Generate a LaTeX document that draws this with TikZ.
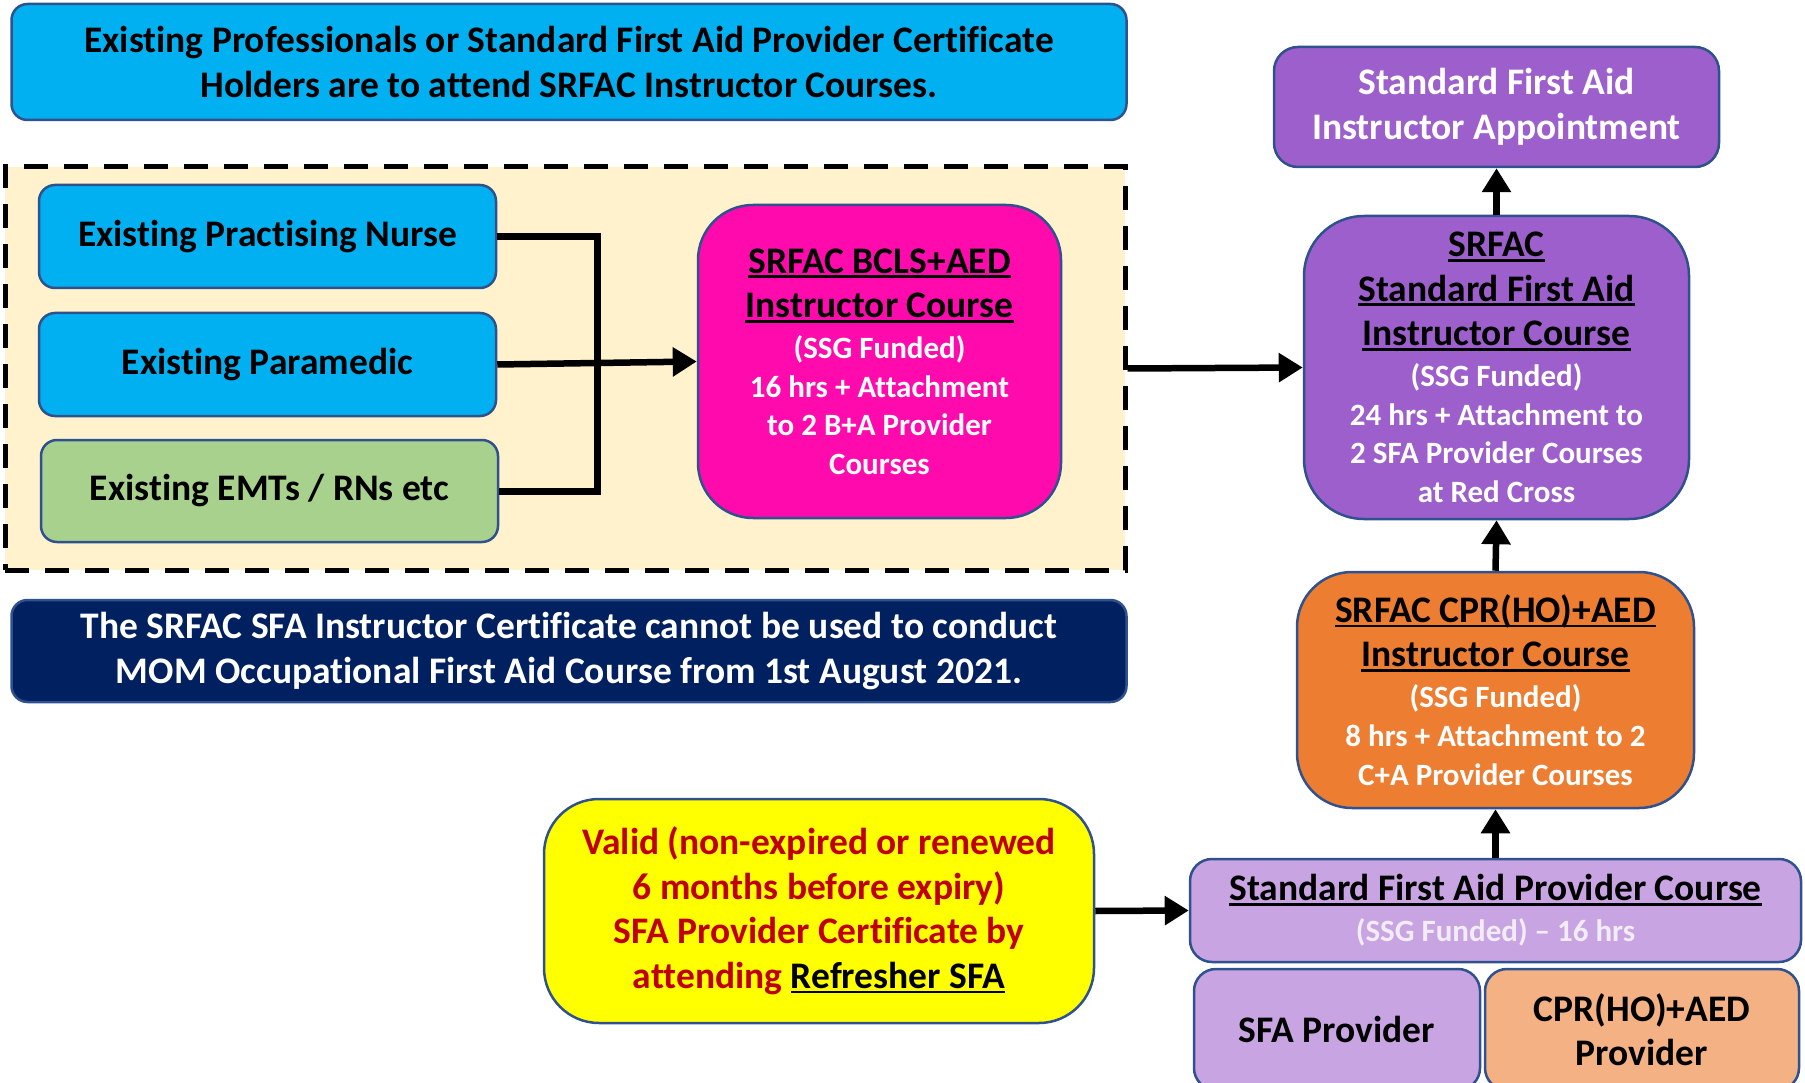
\documentclass[tikz,border=0pt]{standalone}
\usepackage{fontspec}
\setmainfont{Carlito}[Ligatures={NoCommon}]
\usetikzlibrary{arrows.meta}
\newsavebox\ulbox
\newcommand\ulx[1]{\leavevmode\sbox\ulbox{#1}\rlap{\rule[-5pt]{\wd\ulbox}{2.8pt}}\usebox\ulbox}
\definecolor{bordc}{HTML}{2F528F}
\definecolor{cyanc}{HTML}{00B0F0}
\definecolor{greenc}{HTML}{A9D18E}
\definecolor{creamc}{HTML}{FFF2CC}
\definecolor{pinkc}{HTML}{FF0AAD}
\definecolor{navyc}{HTML}{002060}
\definecolor{purplec}{HTML}{9D5FCC}
\definecolor{orangec}{HTML}{ED7D31}
\definecolor{lilacc}{HTML}{C8A4E2}
\definecolor{peachc}{HTML}{F4B183}
\definecolor{yellowc}{HTML}{FFFF00}
\definecolor{redc}{HTML}{C00000}
\definecolor{palec}{HTML}{F2ECF7}
\newcommand\detailsize{\fontsize{31}{38.6}\selectfont}
\newcommand\detailgap{\vskip 2.4pt}
\begin{document}
\begin{tikzpicture}[x=1pt,y=-1pt,
  box/.style={draw=bordc, line width=2.5pt, inner sep=0pt, align=flush center,
    font=\bfseries\fontsize{37.5}{44.5}\selectfont, anchor=center},
  conn/.style={line width=7pt, draw=black},
  arr/.style={line width=6.5pt, draw=black, -{Triangle[length=24pt,width=28pt]}}]
\useasboundingbox (0,0) rectangle (1805,1083);
\clip (0,0) rectangle (1805,1083);

% banner
\node[box, fill=cyanc, rounded corners=16pt, minimum width=1115pt, minimum height=116pt] (banner) at (569,62)
  {Existing Professionals or Standard First Aid Provider Certificate\\Holders are to attend SRFAC Instructor Courses.};

% dashed group
\node[draw=black, line width=5pt, dash pattern=on 24pt off 16pt, fill=creamc, inner sep=0pt,
  minimum width=1120pt, minimum height=403pt, anchor=center] (group) at (565,368.5) {};

\node[box, fill=cyanc, rounded corners=16pt, minimum width=457pt, minimum height=103pt] (nurse) at (267.5,236.5) {\raisebox{-4pt}{Existing Practising Nurse}};
\node[box, fill=cyanc, rounded corners=16pt, minimum width=457pt, minimum height=103pt] (para) at (267.5,364.5) {\raisebox{-3pt}{Existing Paramedic}};
\node[box, fill=greenc, rounded corners=16pt, minimum width=457pt, minimum height=102pt] (emt) at (269.5,491) {\raisebox{-3pt}{Existing EMTs / RNs etc}};

\node[box, fill=pinkc, rounded corners=55pt, minimum width=363pt, minimum height=313pt, text width=350pt] (bcls) at (879.5,361.5)
  {\ulx{SRFAC BCLS+AED}\\\ulx{Instructor Course}\par\detailgap
   {\detailsize\color{white}(SSG Funded)\\16 hrs + Attachment\\to 2 B+A Provider\\Courses\par}};

% navy note
\node[box, fill=navyc, text=white, rounded corners=16pt, minimum width=1115pt, minimum height=102pt] (navy) at (569,651)
  {The SRFAC SFA Instructor Certificate cannot be used to conduct\\MOM Occupational First Aid Course from 1st August 2021.};

% right column
\node[box, fill=purplec, text=white, rounded corners=24pt, minimum width=445pt, minimum height=120pt] (appt) at (1496.5,107)
  {Standard First Aid\\Instructor Appointment};

\node[box, fill=purplec, rounded corners=60pt, minimum width=385pt, minimum height=303pt, text width=375pt] (sfai) at (1496.5,367.5)
  {\ulx{SRFAC}\\\ulx{Standard First Aid}\\\ulx{Instructor Course}\par\detailgap
   {\detailsize\color{white}(SSG Funded)\\24 hrs + Attachment to\\2 SFA Provider Courses\\at Red Cross\par}};

\node[box, fill=orangec, rounded corners=55pt, minimum width=397pt, minimum height=236pt, text width=385pt] (cpri) at (1495.5,690)
  {\ulx{SRFAC CPR(HO)+AED}\\\ulx{Instructor Course}\par\detailgap
   {\detailsize\color{white}(SSG Funded)\\8 hrs + Attachment to 2\\C+A Provider Courses\par}};

\node[box, fill=lilacc, rounded corners=22pt, minimum width=611pt, minimum height=103pt, text width=600pt] (sfac) at (1495.5,910.5)
  {\ulx{Standard First Aid Provider Course}\par\detailgap
   {\detailsize\color{palec}(SSG Funded) -- 16 hrs\par}};

\node[box, fill=lilacc, rounded corners=22pt, minimum width=286pt, minimum height=121pt] (sfap) at (1337,1029.5) {SFA Provider};
\node[box, fill=peachc, rounded corners=22pt, minimum width=314pt, minimum height=121pt] (cprp) at (1642,1029.5) {CPR(HO)+AED\\Provider};

\node[box, fill=yellowc, text=redc, rounded corners=55pt, minimum width=550pt, minimum height=224pt] (valid) at (819,911)
  {Valid (non-expired or renewed\\6 months before expiry)\\SFA Provider Certificate by\\attending {\color{black}\ulx{Refresher SFA}}};

% connectors
\coordinate (join) at (597,0);
\draw[conn] (nurse.east) -- (nurse.east -| join) |- (emt.east);
\draw[arr] (para.east) -- (bcls.west);
\draw[arr] (group.east) -- (sfai.west);
\draw[arr] (sfai.north) -- (appt.south);
\draw[arr] (cpri.north) -- (sfai.south);
\draw[arr] (sfac.north) -- (cpri.south);
\draw[arr] (valid.east) -- (sfac.west);
\end{tikzpicture}
\end{document}
